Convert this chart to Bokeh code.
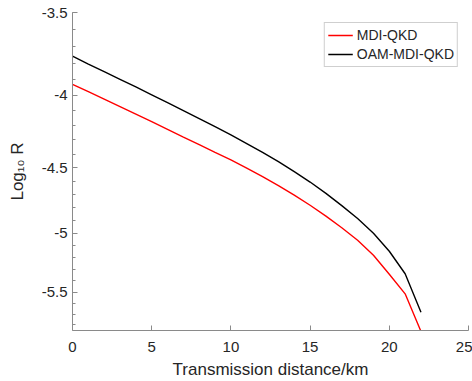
from bokeh.plotting import figure
from bokeh.models import Range1d, FixedTicker, CustomJSTickFormatter
from bokeh.embed import file_html
from bokeh.resources import INLINE

# ---- data ----
distance_km = list(range(0, 23))
mdi_qkd = [-3.931, -3.978, -4.026, -4.075, -4.125, -4.176, -4.228, -4.281, -4.334,
           -4.388, -4.442, -4.502, -4.564, -4.631, -4.702, -4.780, -4.865, -4.957,
           -5.058, -5.182, -5.344, -5.516, -5.862]
oam_mdi_qkd = [-3.756, -3.804, -3.851, -3.899, -3.948, -3.998, -4.049, -4.101, -4.155,
               -4.210, -4.266, -4.326, -4.389, -4.455, -4.527, -4.604, -4.689, -4.783,
               -4.884, -5.001, -5.149, -5.340, -5.683]
x_ticks = [0, 5, 10, 15, 20, 25]
y_ticks = [-3.5, -4, -4.5, -5, -5.5]
y_minor = [round(-3.5 - 0.1 * i, 1) for i in range(0, 24)]
series_names = ["MDI-QKD", "OAM-MDI-QKD"]
x_title = "Transmission distance/km"
y_title = "Log\u2081\u2080 R"

FONT = "Liberation Sans"
TXT = "#262626"
AX = "#8a8a8a"

Y_LO, Y_HI = 3.5, 5.853   # |Log10 R| range (log axis, reversed)

# the y axis of the reference is logarithmic in |Log10 R| (values negative)
mag = lambda arr: [-v for v in arr]

p = figure(width=472, height=381, output_backend="svg", toolbar_location=None,
           x_range=Range1d(0, 25), y_range=Range1d(Y_HI, Y_LO), y_axis_type="log",
           min_border_left=72, min_border_right=4, min_border_top=12, min_border_bottom=51)
p.outline_line_color = None
p.grid.visible = False
p.background_fill_color = "white"
p.border_fill_color = "white"

p.line(distance_km, mag(mdi_qkd), color="#ff0000", line_width=1.4, legend_label=series_names[0])
p.line(distance_km, mag(oam_mdi_qkd), color="#000000", line_width=1.4, legend_label=series_names[1])

# x axis
xa = p.xaxis[0]
xa.ticker = FixedTicker(ticks=x_ticks, minor_ticks=[])
xa.major_label_standoff = 11
xa.axis_label = x_title
xa.axis_label_standoff = 5

# y axis
ya = p.yaxis[0]
ya.ticker = FixedTicker(ticks=[-t for t in y_ticks], minor_ticks=[-t for t in y_minor])
ya.formatter = CustomJSTickFormatter(code="return '-' + tick;")
ya.major_label_standoff = 5
ya.axis_label = y_title
ya.axis_label_standoff = 12

for ax in (xa, ya):
    ax.axis_line_color = AX
    ax.major_tick_line_color = AX
    ax.minor_tick_line_color = AX
    ax.major_tick_in = 5
    ax.major_tick_out = 0
    ax.minor_tick_in = 3
    ax.minor_tick_out = 0
    ax.major_label_text_font = FONT
    ax.major_label_text_font_size = "15px"
    ax.major_label_text_color = TXT
    ax.axis_label_text_font = FONT
    ax.axis_label_text_font_size = "17px"
    ax.axis_label_text_font_style = "normal"
    ax.axis_label_text_color = TXT

# legend
lg = p.legend[0]
lg.location = "top_right"
lg.margin = 10
lg.padding = 3
lg.spacing = 1
lg.label_standoff = 4
lg.glyph_width = 25
lg.glyph_height = 18
lg.label_height = 18
lg.label_text_font = FONT
lg.label_text_font_size = "14px"
lg.label_text_color = TXT
lg.border_line_color = "#a0a0a0"
lg.border_line_width = 1
lg.background_fill_alpha = 1.0

open("out.html", "w").write(file_html(p, INLINE))
